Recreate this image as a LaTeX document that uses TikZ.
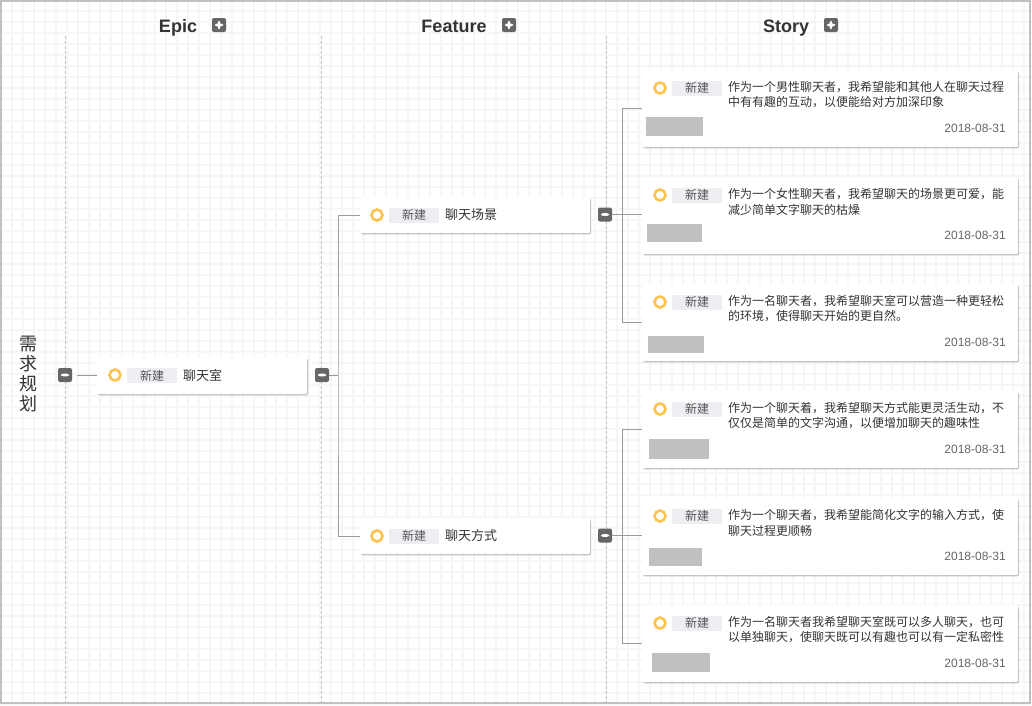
\documentclass[tikz,border=0pt]{standalone}
\usepackage{fontspec}
\setmainfont{Liberation Sans}
\newfontfamily\cjk{Noto Sans CJK SC}
\usetikzlibrary{shadows}
\definecolor{gridc}{HTML}{F6F6F6}
\definecolor{framec}{HTML}{C0C0C0}
\definecolor{dashc}{HTML}{C4C4C4}
\definecolor{linec}{HTML}{9A9A9A}
\definecolor{btnc}{HTML}{666666}
\definecolor{ringc}{HTML}{FCC34F}
\definecolor{tagc}{HTML}{ECEEF2}
\definecolor{txtc}{HTML}{333333}
\definecolor{subc}{HTML}{555555}
\definecolor{datec}{HTML}{666666}
\definecolor{phc}{HTML}{C0C0C0}
\tikzset{
  cardbox/.style={rectangle, rounded corners=2pt, fill=white, inner sep=0pt,
    drop shadow={shadow xshift=0.8pt, shadow yshift=-1.2pt, opacity=0.25, fill=black}},
  btnbase/.style={rectangle, rounded corners=2pt, fill=btnc, minimum size=14pt, inner sep=0pt},
  minusbtn/.style={btnbase, path picture={\fill[white]
    ([xshift=-4pt,yshift=-1.3pt]path picture bounding box.center) rectangle
    ([xshift=4pt,yshift=1.3pt]path picture bounding box.center);}},
  plusbtn/.style={btnbase, path picture={\fill[white]
    ([xshift=-4pt,yshift=-1.3pt]path picture bounding box.center) rectangle
    ([xshift=4pt,yshift=1.3pt]path picture bounding box.center);
    \fill[white]
    ([xshift=-1.3pt,yshift=-4pt]path picture bounding box.center) rectangle
    ([xshift=1.3pt,yshift=4pt]path picture bounding box.center);}},
  ring/.style={circle, draw=ringc, line width=2.6pt, minimum size=11pt, inner sep=0pt},
  tag/.style={rectangle, fill=tagc, minimum width=50pt, minimum height=15pt, inner sep=0pt,
    text=subc, font=\cjk\fontsize{12}{14}\selectfont},
  conn/.style={draw=linec, line width=0.9pt},
  colsep/.style={draw=dashc, line width=0.8pt, dash pattern=on 3pt off 2pt},
  header/.style={anchor=base, font=\bfseries\fontsize{18}{20}\selectfont, text=txtc},
  lbl/.style={anchor=west, inner sep=0pt, text=txtc, font=\cjk\fontsize{13}{15}\selectfont},
  storytxt/.style={anchor=west, inner sep=0pt, text=txtc, font=\cjk\fontsize{12}{15}\selectfont},
  datetxt/.style={anchor=east, inner sep=0pt, text=datec, font=\fontsize{12}{14}\selectfont},
}
\newcommand{\mystory}[8]{%
  % #1 name, #2 top, #3 line1, #4 line2, #5-#8 placeholder x1,y1,x2,y2
  \node[cardbox, anchor=north west, minimum width=376pt, minimum height=77pt] (#1) at (642,#2) {};
  \node[ring] (#1r) at (660,{#2+18}) {};
  \node[tag] (#1t) at (697,{#2+18}) {新建};
  \node[storytxt] (#1a) at (728,{#2+17.5}) {#3};
  \node[storytxt] (#1b) at (728,{#2+32.5}) {#4};
  \fill[phc] (#5,#6) rectangle (#7,#8);
  \node[datetxt] (#1d) at (1006,{#2+58}) {2018-08-31};
}
\begin{document}
\begin{tikzpicture}[x=1pt,y=-1pt]
\useasboundingbox (0,0) rectangle (1032,705);
\fill[white] (0,0) rectangle (1032,705);
% grid
\foreach \gx in {1,12,...,1032} \draw[gridc, line width=1.5pt] (\gx,0) -- (\gx,705);
\foreach \gy in {0,11,...,705} \draw[gridc, line width=1.5pt] (0,\gy) -- (1032,\gy);
% frame
\draw[framec, line width=2pt] (1,1) rectangle (1030,703);
% column separators
\draw[colsep] (65.5,36) -- (65.5,702);
\draw[colsep] (321.5,36) -- (321.5,702);
\draw[colsep] (606.5,36) -- (606.5,702);
% headers
\node[header] (hepic) at (178,32) {Epic};
\node[plusbtn] (pepic) at (219,25) {};
\node[header] (hfeat) at (454,32) {Feature};
\node[plusbtn] (pfeat) at (509,25) {};
\node[header] (hstory) at (786,32) {Story};
\node[plusbtn] (pstory) at (831,25) {};
% root label
\node[align=center, inner sep=0pt, text=txtc, font=\cjk\fontsize{18}{20.3}\selectfont] (root) at (28,374) {需\\求\\规\\划};
% epic
\node[cardbox, anchor=north west, minimum width=210pt, minimum height=37pt] (epic) at (97,357) {};
\node[ring] (epicr) at (115,375) {};
\node[tag] (epict) at (152,375.5) {新建};
\node[lbl] (epicl) at (183,375.5) {聊天室};
\node[minusbtn] (em) at (65,375) {};
\node[minusbtn] (er) at (322,375) {};
\draw[conn] ([xshift=5pt]em.east) -- (em.east -| epic.west);
\coordinate (j1) at (338,375);
% features
\node[cardbox, anchor=north west, minimum width=230pt, minimum height=36pt] (f1) at (360,197) {};
\node[ring] (f1r) at (377,215) {};
\node[tag] (f1t) at (414,215) {新建};
\node[lbl] (f1l) at (445,215) {聊天场景};
\node[minusbtn] (fm1) at (605,214.5) {};
\node[cardbox, anchor=north west, minimum width=230pt, minimum height=36pt] (f2) at (360,518) {};
\node[ring] (f2r) at (377,536) {};
\node[tag] (f2t) at (414,536) {新建};
\node[lbl] (f2l) at (445,536) {聊天方式};
\node[minusbtn] (fm2) at (605,535.5) {};
\draw[conn] (er.east) -- (j1);
\draw[conn] (f1.west) -| (j1) |- (f2.west);
\coordinate (j2) at (622,214.5);
\coordinate (j3) at (622,535.5);
% stories
\mystory{s1}{70}{作为一个男性聊天者，我希望能和其他人在聊天过程}{中有有趣的互动，以便能给对方加深印象}{646}{117}{703}{136}
\mystory{s2}{177}{作为一个女性聊天者，我希望聊天的场景更可爱，能}{减少简单文字聊天的枯燥}{647}{224}{702}{242}
\mystory{s3}{284}{作为一名聊天者，我希望聊天室可以营造一种更轻松}{的环境，使得聊天开始的更自然。}{648}{336}{704}{353}
\mystory{s4}{391}{作为一个聊天着，我希望聊天方式能更灵活生动，不}{仅仅是简单的文字沟通，以便增加聊天的趣味性}{649}{439}{709}{459}
\mystory{s5}{498}{作为一个聊天者，我希望能简化文字的输入方式，使}{聊天过程更顺畅}{649}{548}{702}{566}
\mystory{s6}{605}{作为一名聊天者我希望聊天室既可以多人聊天，也可}{以单独聊天，使聊天既可以有趣也可以有一定私密性}{652}{653}{710}{672}
\draw[conn] (fm1.east) -- (j2);
\draw[conn] (s1.west) -| (j2) |- (s3.west);
\draw[conn] (j2) -- (j2 -| s2.west);
\draw[conn] (fm2.east) -- (j3);
\draw[conn] (s4.west) -| (j3) |- (s6.west);
\draw[conn] (j3) -- (j3 -| s5.west);
\end{tikzpicture}
\end{document}
